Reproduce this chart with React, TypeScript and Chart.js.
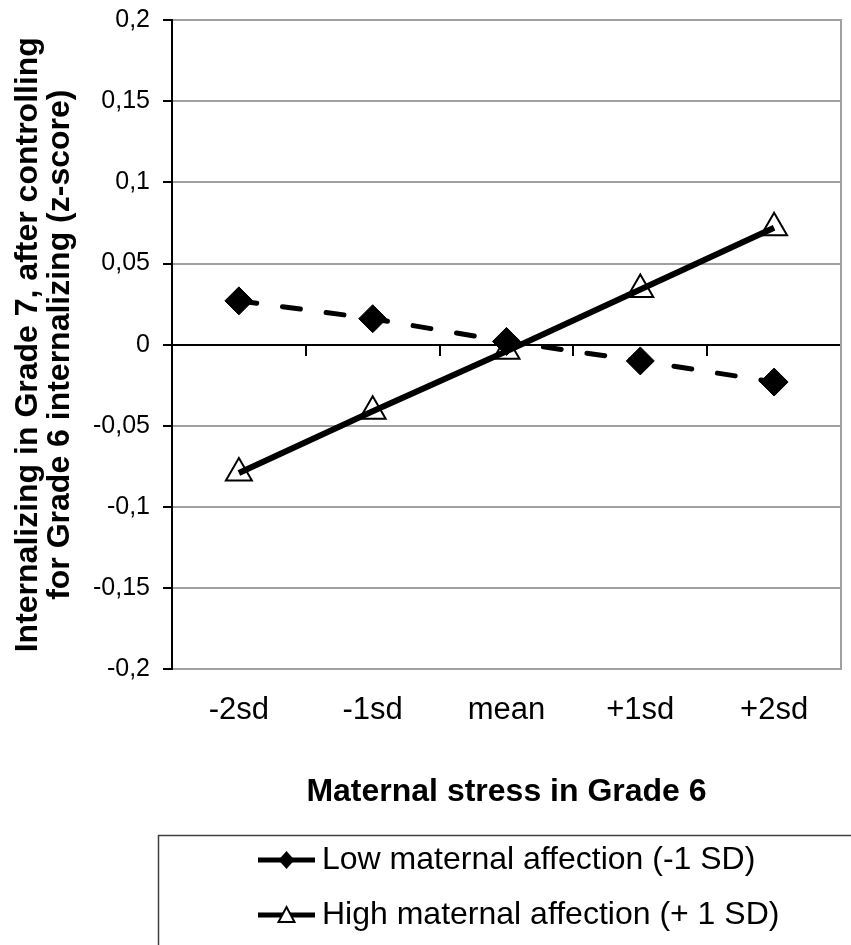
import React, { useEffect, useRef } from 'react';
import { Chart, registerables } from 'chart.js';

Chart.register(...registerables);

const categories = ['-2sd', '-1sd', 'mean', '+1sd', '+2sd'];
const lowAffection = [0.027, 0.016, 0.002, -0.01, -0.023];
const highAffection = [-0.079, -0.041, -0.004, 0.034, 0.072];
const seriesNames = ['Low maternal affection (-1 SD)', 'High maternal affection (+ 1 SD)'];
const yTitleLines = ['Internalizing in Grade 7, after controlling', 'for Grade 6 internalizing (z-score)'];
const xTitle = 'Maternal stress in Grade 6';
const yMin = -0.2;
const yMax = 0.2;
const yStep = 0.05;

const FONT = "'Liberation Sans', Arial, sans-serif";

function makeLegendSample(kind: 'diamond' | 'triangle'): HTMLCanvasElement {
  const c = document.createElement('canvas');
  c.width = 57;
  c.height = 24;
  const g = c.getContext('2d')!;
  g.strokeStyle = '#000';
  g.lineWidth = 5;
  g.beginPath();
  g.moveTo(0, 12);
  g.lineTo(57, 12);
  g.stroke();
  const cx = 28.5;
  const cy = 12;
  if (kind === 'diamond') {
    g.fillStyle = '#000';
    g.beginPath();
    g.moveTo(cx, cy - 9);
    g.lineTo(cx + 8, cy);
    g.lineTo(cx, cy + 9);
    g.lineTo(cx - 8, cy);
    g.closePath();
    g.fill();
  } else {
    g.fillStyle = '#fff';
    g.lineWidth = 2;
    g.beginPath();
    g.moveTo(cx, cy - 8);
    g.lineTo(cx + 8, cy + 7);
    g.lineTo(cx - 8, cy + 7);
    g.closePath();
    g.fill();
    g.stroke();
  }
  return c;
}

const legendFrame = {
  id: 'legendFrame',
  afterLayout(chart: any) {
    if (chart.legend) {
      chart.legend.left = 244;
    }
  },
  afterDraw(chart: any) {
    const lg = chart.legend;
    if (!lg) return;
    const ctx = chart.ctx;
    ctx.save();
    ctx.strokeStyle = '#404040';
    ctx.lineWidth = 1.5;
    ctx.strokeRect(158.5, lg.top + 14.5, 760, 200);
    ctx.restore();
  },
};

export default function App() {
  const ref = useRef<HTMLCanvasElement | null>(null);

  useEffect(() => {
    if (!ref.current) return;
    const samples = [makeLegendSample('diamond'), makeLegendSample('triangle')];
    const chart = new Chart(ref.current, {
      type: 'line',
      data: {
        labels: categories,
        datasets: [
          {
            label: seriesNames[0],
            data: lowAffection,
            xAxisID: 'x',
            yAxisID: 'y',
            borderColor: '#000',
            backgroundColor: '#000',
            borderWidth: 5,
            borderDash: [18, 26],
            borderCapStyle: 'round',
            pointStyle: 'rectRot',
            pointRadius: 14,
            pointBackgroundColor: '#000',
            pointBorderColor: '#000',
            pointBorderWidth: 1,
            tension: 0,
          },
          {
            label: seriesNames[1],
            data: highAffection,
            xAxisID: 'x',
            yAxisID: 'y',
            borderColor: '#000',
            backgroundColor: '#fff',
            borderWidth: 6,
            pointStyle: 'triangle',
            pointRadius: 15,
            pointBackgroundColor: 'rgba(255,255,255,0)',
            pointBorderColor: '#000',
            pointBorderWidth: 2,
            tension: 0,
          },
        ],
      },
      options: {
        responsive: true,
        maintainAspectRatio: false,
        animation: false,
        layout: { autoPadding: false, padding: { left: 8, right: 10, top: 20, bottom: 4 } },
        plugins: {
          tooltip: { enabled: false },
          legend: {
            display: true,
            position: 'bottom',
            align: 'start',
            labels: {
              usePointStyle: true,
              pointStyleWidth: 39,
              padding: 23,
              color: '#000',
              font: { family: FONT, size: 32 },
              generateLabels: () =>
                seriesNames.map((name, i) => ({
                  text: name,
                  pointStyle: samples[i] as any,
                  fillStyle: '#000',
                  strokeStyle: '#000',
                  lineWidth: 0,
                  hidden: false,
                  datasetIndex: i,
                })),
            },
          },
        },
        scales: {
          x: {
            type: 'category',
            position: { y: 0 } as any,
            offset: true,
            grid: {
              display: true,
              offset: true,
              drawOnChartArea: false,
              drawTicks: true,
              tickLength: 10,
              color: '#000',
              lineWidth: 2,
            },
            border: { display: true, color: '#000', width: 2 },
            ticks: { display: false },
          },
          x2: {
            type: 'category',
            labels: categories,
            position: 'bottom',
            offset: true,
            grid: { display: false, drawTicks: false },
            border: { display: false },
            ticks: {
              color: '#000',
              font: { family: FONT, size: 31 },
              padding: 22,
              maxRotation: 0,
              autoSkip: false,
            },
            title: {
              display: true,
              text: xTitle,
              color: '#000',
              font: { family: FONT, size: 32, weight: 'bold' },
              padding: { top: 22, bottom: 10 },
            },
          },
          y: {
            type: 'linear',
            position: 'left',
            min: yMin,
            max: yMax,
            afterFit: (scale: any) => {
              scale.paddingTop = 0;
              scale.paddingBottom = 0;
            },
            ticks: {
              stepSize: yStep,
              color: '#000',
              font: { family: FONT, size: 25 },
              padding: 13,
              callback: (v: any) => String(Math.round(Number(v) * 100) / 100).replace('.', ','),
            },
            grid: {
              color: (c: any) => (c.tick && c.tick.value === 0 ? '#000' : '#a0a0a0'),
              lineWidth: 2,
              tickColor: '#000',
              tickLength: 9,
              drawTicks: true,
            },
            border: { display: true, color: '#000', width: 2 },
            title: {
              display: true,
              text: yTitleLines,
              color: '#000',
              font: { family: FONT, size: 32, weight: 'bold', lineHeight: 1.0 },
              padding: { top: 4, bottom: 4 },
            },
          },
          y2: {
            type: 'linear',
            position: 'right',
            min: yMin,
            max: yMax,
            display: true,
            grid: { drawOnChartArea: false, drawTicks: false },
            ticks: { display: false },
            border: { display: true, color: '#a0a0a0', width: 2 },
          },
        },
      } as any,
      plugins: [legendFrame],
    });
    return () => chart.destroy();
  }, []);

  return (
    <div style={{ position: 'absolute', left: 0, top: 0, width: 851, height: 945, background: '#fff' }}>
      <canvas ref={ref} />
    </div>
  );
}
